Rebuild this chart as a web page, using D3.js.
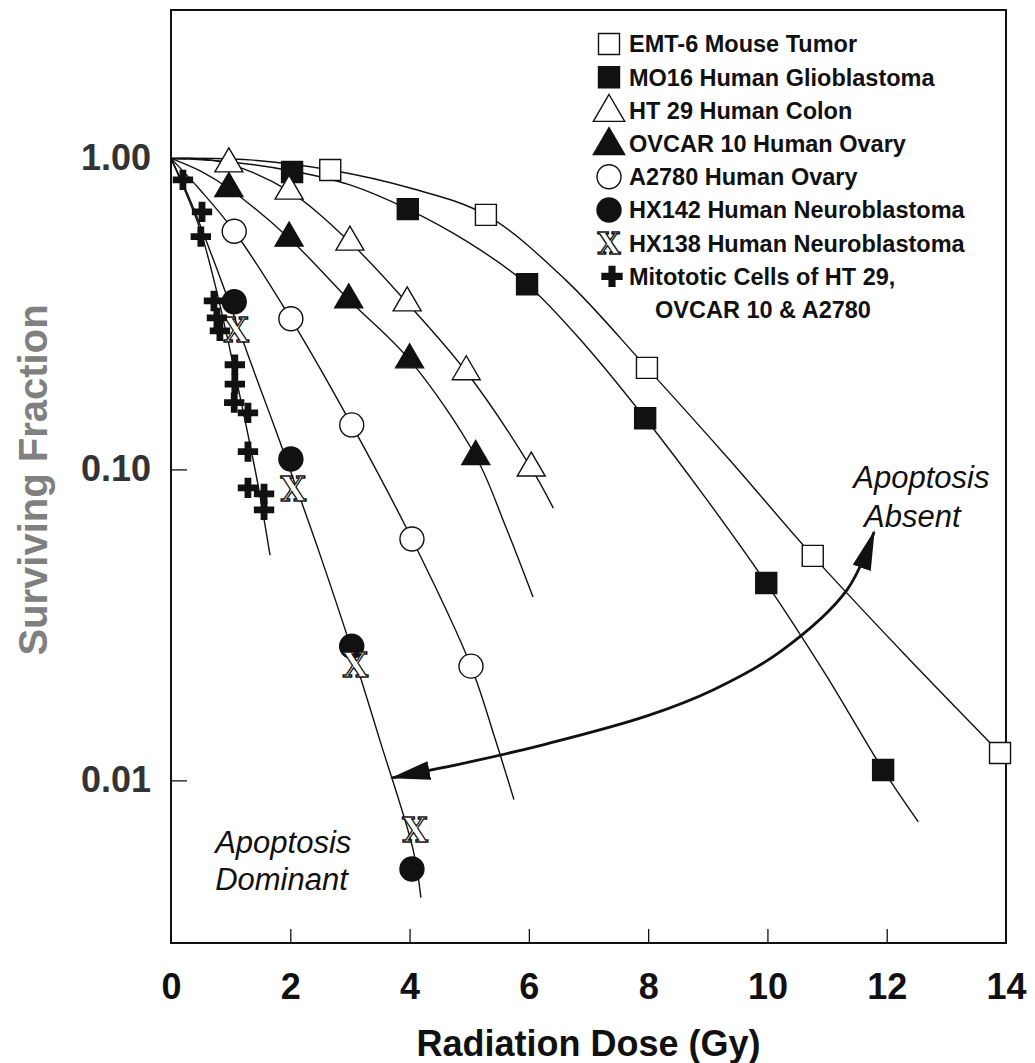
<!DOCTYPE html>
<html><head><meta charset="utf-8">
<script src="https://cdn.jsdelivr.net/npm/d3@7"></script>
<style>body{margin:0;background:#fff}svg{display:block}</style>
</head><body>
<svg id="chart" width="1035" height="1063"></svg>
<script>
// ---------- data (dose Gy, surviving fraction) ----------
const xTicks = [0, 2, 4, 6, 8, 10, 12, 14];
const yTicks = [1, 0.1, 0.01];
const yTickLabels = ["1.00", "0.10", "0.01"];

const emt6Points   = [[2.67,0.918],[5.28,0.658],[7.98,0.212],[10.76,0.0527],[13.90,0.01225]];
const mo16Points   = [[2.03,0.904],[3.97,0.687],[5.97,0.394],[7.95,0.146],[9.98,0.0431],[11.94,0.0108]];
const ht29Points   = [[0.97,0.96],[1.98,0.785],[3.0,0.538],[3.96,0.343],[4.95,0.206],[6.04,0.101]];
const ovcarPoints  = [[0.97,0.80],[1.98,0.554],[2.98,0.351],[4.0,0.225],[5.11,0.110]];
const a2780Points  = [[1.06,0.583],[2.01,0.305],[3.03,0.139],[4.04,0.0597],[5.03,0.0233]];
const hx142Points  = [[1.06,0.346],[2.01,0.108],[3.03,0.0270],[4.04,0.00519]];
const hx138Points  = [[1.09,0.281],[2.05,0.0865],[3.09,0.0235],[4.09,0.00693]];
const mitoticPoints= [[0.20,0.853],[0.52,0.673],[0.50,0.560],[0.72,0.348],[0.77,0.307],[0.82,0.279],
                      [1.07,0.217],[1.07,0.188],[1.06,0.164],[1.29,0.152],[1.29,0.114],[1.29,0.0872],
                      [1.56,0.0834],[1.56,0.0741]];

// fitted curves
const emt6Curve  = [[0,1],[1.32,0.989],[2.67,0.918],[4.01,0.803],[5.28,0.658],[6.62,0.406],[7.98,0.212],[9.37,0.107],[10.76,0.0527],[12.31,0.0253],[13.90,0.01225]];
const mo16Curve  = [[0,1],[0.99,0.974],[2.03,0.911],[3.0,0.822],[3.97,0.687],[4.98,0.538],[5.97,0.394],[6.96,0.249],[7.95,0.146],[8.95,0.0816],[9.98,0.0431],[10.97,0.0220],[11.94,0.0108],[12.53,0.00735]];
const ht29Curve  = [[0,1],[0.49,0.996],[0.97,0.96],[1.98,0.785],[3.0,0.538],[3.96,0.343],[4.95,0.206],[6.04,0.101],[6.41,0.0751]];
const ovcarCurve = [[0,1],[0.49,0.911],[0.97,0.80],[1.98,0.554],[2.98,0.351],[4.0,0.225],[5.11,0.110],[5.60,0.0663],[6.07,0.0389]];
const a2780Curve = [[0,1],[0.49,0.791],[1.06,0.583],[2.01,0.305],[3.03,0.139],[4.04,0.0597],[5.03,0.0233],[5.43,0.01368],[5.75,0.00867]];
const hxCurve    = [[0,1],[0.32,0.735],[0.65,0.507],[0.96,0.351],[1.32,0.225],[1.66,0.150],[2.01,0.098],[2.50,0.0531],[3.03,0.0263],[3.50,0.0135],[4.06,0.00598],[4.19,0.0042]];
const mitoticCurve = [[0,1],[0.23,0.791],[0.49,0.589],[0.74,0.392],[0.99,0.242],[1.24,0.144],[1.46,0.089],[1.66,0.053]];

// annotation arrow (dose, fraction)
const arrowPath = [[3.706,0.01019],[5.013,0.01147],[6.304,0.01311],[7.981,0.01612],[9.088,0.01954],[10.211,0.02589],[11.335,0.04097],[11.788,0.0629]];
const notes = [
  {text:"Apoptosis", at:[11.44,0.0871]},
  {text:"Absent",    at:[11.62,0.0653]},
  {text:"Apoptosis", at:[0.74,0.00585]},
  {text:"Dominant",  at:[0.74,0.00445]}
];

const legendLabels = ["EMT-6 Mouse Tumor","MO16 Human Glioblastoma","HT 29 Human Colon","OVCAR 10 Human Ovary",
  "A2780 Human Ovary","HX142 Human Neuroblastoma","HX138 Human Neuroblastoma","Mitototic Cells of HT 29,"];
const legendExtra = "OVCAR 10 & A2780";

// ---------- layout ----------
const svg = d3.select("#chart");
const FONT = "'Liberation Sans', Arial, Helvetica, sans-serif";
const pL = 171, pR = 1006, pT = 10, pB = 943;
const x = d3.scaleLinear().domain([0,14]).range([pL,pR]);
const y = d3.scaleLog().domain([0.003,3]).range([pB,pT]);

svg.append("rect").attr("width",1035).attr("height",1063).attr("fill","#fff");

// frame
svg.append("rect").attr("x",pL).attr("y",pT).attr("width",pR-pL).attr("height",pB-pT)
  .attr("fill","none").attr("stroke","#111").attr("stroke-width",2);

// axes
const xAxis = d3.axisBottom(x).tickValues(xTicks).tickSize(-14).tickPadding(30).tickFormat(d3.format("d"));
const gx = svg.append("g").attr("transform",`translate(0,${pB})`).call(xAxis);
gx.select(".domain").remove();
gx.selectAll(".tick line").attr("stroke","#111").attr("stroke-width",1.3)
  .attr("opacity",(d)=> (d===0||d===14)?0:1);
gx.selectAll("text").attr("font-family",FONT).attr("font-size",36).attr("font-weight","bold").attr("fill","#111");

const yAxis = d3.axisLeft(y).tickValues(yTicks).tickSize(-16).tickPadding(20).tickFormat((d,i)=>yTickLabels[i]);
const gy = svg.append("g").attr("transform",`translate(${pL},0)`).call(yAxis);
gy.select(".domain").remove();
gy.selectAll(".tick line").attr("stroke","#111").attr("stroke-width",1.3);
gy.selectAll("text").attr("font-family",FONT).attr("font-size",36).attr("font-weight","bold").attr("fill","#333");

svg.append("text").attr("x",(pL+pR)/2).attr("y",1056).attr("text-anchor","middle")
  .attr("font-family",FONT).attr("font-size",36).attr("font-weight","bold").attr("fill","#111")
  .text("Radiation Dose (Gy)");
svg.append("text").attr("transform","translate(47,480) rotate(-90)").attr("text-anchor","middle")
  .attr("font-family",FONT).attr("font-size",40).attr("font-weight","bold").attr("fill","#808080")
  .text("Surviving Fraction");

// curves
const line = d3.line().x(d=>x(d[0])).y(d=>y(d[1])).curve(d3.curveCatmullRom.alpha(0.5));
[emt6Curve,mo16Curve,ht29Curve,ovcarCurve,a2780Curve,hxCurve,mitoticCurve].forEach(c=>{
  svg.append("path").attr("d",line(c)).attr("fill","none").attr("stroke","#111").attr("stroke-width",1.4);
});

// arrow
const defs = svg.append("defs");
defs.append("marker").attr("id","ah").attr("viewBox","0 0 40 20").attr("refX",38).attr("refY",10)
  .attr("markerWidth",40).attr("markerHeight",20).attr("markerUnits","userSpaceOnUse")
  .attr("orient","auto-start-reverse")
  .append("path").attr("d","M0,0.5 L40,10 L0,19.5 Z").attr("fill","#111");
svg.append("path").attr("d",line(arrowPath)).attr("fill","none").attr("stroke","#111").attr("stroke-width",2.8)
  .attr("marker-start","url(#ah)").attr("marker-end","url(#ah)");

// annotation text
notes.forEach(n=>{
  svg.append("text").attr("x",x(n.at[0])).attr("y",y(n.at[1])).attr("font-family",FONT)
    .attr("font-size",31).attr("font-style","italic").attr("fill","#111").text(n.text);
});

// ---------- symbols ----------
const sq = s => `M${-s/2},${-s/2}h${s}v${s}h${-s}Z`;
const tri = (w,h) => `M0,${-2*h/3}L${w/2},${h/3}L${-w/2},${h/3}Z`;
const circ = r => d3.symbol(d3.symbolCircle, Math.PI*r*r)();
const cross = s => d3.symbol(d3.symbolCross, s)();

function drawMarker(g, type, cx, cy, scale){
  const k = scale||1;
  const t = `translate(${cx},${cy})`;
  const base = (d, fill) => g.append("path").attr("d",d).attr("transform",t)
      .attr("fill",fill).attr("stroke","#111").attr("stroke-width",1.4);
  switch(type){
    case "openSquare": base(sq(21*k),"#fff"); break;
    case "filledSquare": base(sq(21*k),"#111"); break;
    case "openTriangle": base(tri(28*k,24*k),"#fff"); break;
    case "filledTriangle": base(tri(28*k,24*k),"#111"); break;
    case "openCircle": base(circ(12*k),"#fff"); break;
    case "filledCircle": base(circ(12*k),"#111"); break;
    case "cross": g.append("path").attr("d",cross(230*k*k)).attr("transform",t).attr("fill","#111"); break;
    case "xmark":
      g.append("text").attr("x",cx).attr("y",cy).attr("dy","0.36em").attr("text-anchor","middle")
        .attr("font-family","'DejaVu Serif', serif").attr("font-weight","bold").attr("font-size",33*k)
        .attr("fill","#fff").attr("stroke","#111").attr("stroke-width",1.3).text("X");
      break;
  }
}

const series = [
  {pts:emt6Points, type:"openSquare"},
  {pts:mo16Points, type:"filledSquare"},
  {pts:ht29Points, type:"openTriangle"},
  {pts:ovcarPoints, type:"filledTriangle"},
  {pts:a2780Points, type:"openCircle"},
  {pts:hx142Points, type:"filledCircle"},
  {pts:hx138Points, type:"xmark"},
  {pts:mitoticPoints, type:"cross"}
];
const gm = svg.append("g");
series.forEach(s=> s.pts.forEach(p=> drawMarker(gm, s.type, x(p[0]), y(p[1]))));

// ---------- legend ----------
const gl = svg.append("g");
legendLabels.forEach((lab,i)=>{
  const cy = 44 + i*33.2;
  const tp = series[i].type;
  const sx = tp==="cross" ? 612 : 609;
  drawMarker(gl, tp, sx, cy + (tp.includes("Triangle")?2:0),
     tp.includes("Triangle")?1.12:(tp==="cross"?1.05:(tp==="xmark"?0.9:1)));
  gl.append("text").attr("x",629).attr("y",cy).attr("dy","0.36em").attr("font-family",FONT)
    .attr("font-size",23.5).attr("font-weight","bold").attr("fill","#111").text(lab);
});
gl.append("text").attr("x",655).attr("y",44+8*33.2).attr("dy","0.36em").attr("font-family",FONT)
  .attr("font-size",23.5).attr("font-weight","bold").attr("fill","#111").text(legendExtra);
</script>
</body></html>
